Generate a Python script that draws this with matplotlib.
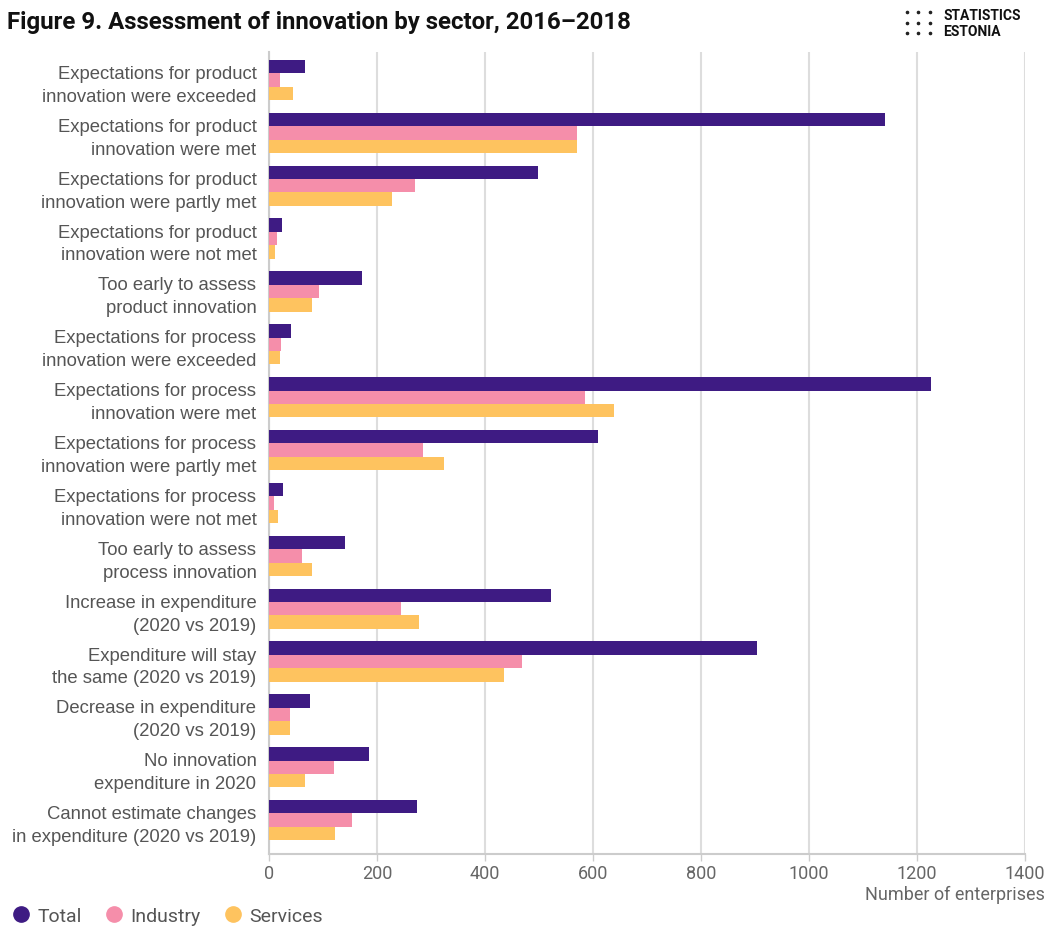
import numpy as np
import matplotlib.pyplot as plt
import matplotlib.transforms as mtrans
from matplotlib.lines import Line2D

plt.rcParams['font.family'] = ['Roboto', 'DejaVu Sans']

categories = [
    "Expectations for product\ninnovation were exceeded",
    "Expectations for product\ninnovation were met",
    "Expectations for product\ninnovation were partly met",
    "Expectations for product\ninnovation were not met",
    "Too early to assess\nproduct innovation",
    "Expectations for process\ninnovation were exceeded",
    "Expectations for process\ninnovation were met",
    "Expectations for process\ninnovation were partly met",
    "Expectations for process\ninnovation were not met",
    "Too early to assess\nprocess innovation",
    "Increase in expenditure\n(2020 vs 2019)",
    "Expenditure will stay\nthe same (2020 vs 2019)",
    "Decrease in expenditure\n(2020 vs 2019)",
    "No innovation\nexpenditure in 2020",
    "Cannot estimate changes\nin expenditure (2020 vs 2019)",
]
total = [66, 1141, 498, 24, 172, 40, 1226, 609, 25, 140, 522, 903, 75, 185, 274]
industry = [20, 570, 270, 14, 92, 22, 586, 286, 9, 61, 244, 468, 38, 120, 153]
services = [44, 570, 227, 11, 79, 20, 638, 324, 16, 79, 277, 435, 38, 66, 122]

series = [("Total", total, "#3e1b83"),
          ("Industry", industry, "#f58eaa"),
          ("Services", services, "#fec35f")]

W, H = 1048, 929
fig = plt.figure(figsize=(W / 100, H / 100), dpi=100)
ax = fig.add_axes([269 / W, 1 - 855 / H, 756 / W, 802 / H])

y = np.arange(len(categories))
h = 0.254
for i, (name, vals, col) in enumerate(series):
    ax.barh(y + (i - 1) * h, vals, height=h, color=col, label=name, zorder=3)

# a little extra room under the last group, as on the axis
ax.set_ylim(len(categories) - 0.36, -0.53)
ax.set_xlim(0, 1400)
ax.set_xticks(range(0, 1401, 200))
ax.set_yticks(y)
ax.set_yticklabels(categories, fontsize=13.3, color="#555555", linespacing=1.45,
                   family=["Liberation Sans", "DejaVu Sans"])
# nudge the two-line labels up a bit so they sit on the group centre
off = mtrans.ScaledTranslation(0, 2.5 / 72, fig.dpi_scale_trans)
for lab in ax.get_yticklabels():
    lab.set_transform(lab.get_transform() + off)
ax.tick_params(axis="y", length=0, pad=9)
ax.tick_params(axis="x", length=5, width=1, color="#cccccc", labelsize=13,
               labelcolor="#666666", pad=2)
ax.grid(axis="x", color="#dddddd", linewidth=1.5, zorder=0)
for s in ["top", "right"]:
    ax.spines[s].set_visible(False)
ax.spines["left"].set_color("#cccccc")
ax.spines["left"].set_linewidth(1.5)
ax.spines["bottom"].set_color("#cccccc")
ax.spines["bottom"].set_linewidth(1.5)

fig.text(1045 / W, 1 - 895 / H, "Number of enterprises", ha="right", va="center",
         fontsize=13, color="#666666")

fig.text(7 / W, 1 - 22 / H, "Figure 9. Assessment of innovation by sector, 2016\u20132018",
         ha="left", va="center", fontsize=17.3, fontweight="bold", color="#111111")

# logo in the corner
dx = [907, 918, 930]
dy = [13, 24, 34]
fig.add_artist(Line2D([x / W for x in dx for _ in dy],
                      [1 - v / H for _ in dx for v in dy],
                      transform=fig.transFigure, linestyle="", marker="o",
                      markersize=1.6, color="#222222"))
fig.text(943 / W, 1 - 16 / H, "STATISTICS", ha="left", va="center",
         fontsize=10, fontweight="bold", color="#111111")
fig.text(943 / W, 1 - 31.5 / H, "ESTONIA", ha="left", va="center",
         fontsize=10, fontweight="bold", color="#111111")

marks = [Line2D([], [], marker="o", linestyle="", markersize=11, color=c)
         for _, _, c in series]
fig.legend(marks, [s[0] for s in series], loc="center left",
           bbox_to_anchor=(12 / W, 1 - 917 / H), ncol=3, frameon=False,
           fontsize=14, handlelength=0.9, handletextpad=0.4, columnspacing=1.2,
           labelcolor="#555555", borderaxespad=0, borderpad=0)

fig.savefig("out.png", dpi=100)
